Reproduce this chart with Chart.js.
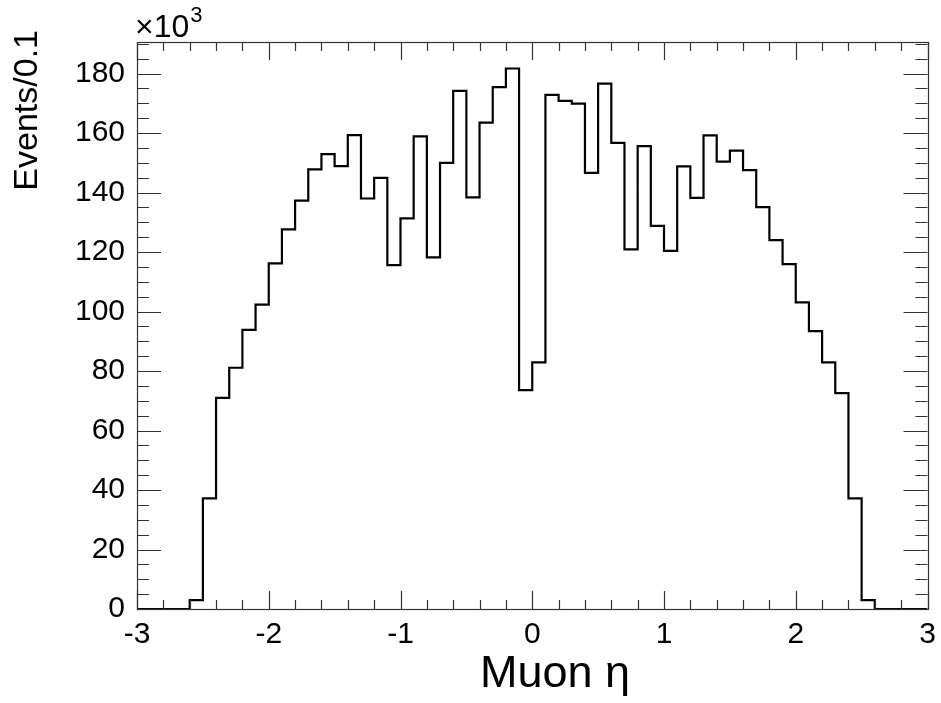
<!DOCTYPE html>
<html>
<head>
<meta charset="utf-8">
<script src="https://cdn.jsdelivr.net/npm/chart.js@4"></script>
<style>
  html, body { margin: 0; padding: 0; background: #fff; }
  canvas { display: block; }
</style>
</head>
<body>
<canvas id="eta" width="941" height="703"></canvas>
<script>
// bin edges in muon eta (60 bins of 0.1)
const etaEdges = [
  -3.0, -2.9, -2.8, -2.7, -2.6, -2.5, -2.4, -2.3, -2.2, -2.1,
  -2.0, -1.9, -1.8, -1.7, -1.6, -1.5, -1.4, -1.3, -1.2, -1.1,
  -1.0, -0.9, -0.8, -0.7, -0.6, -0.5, -0.4, -0.3, -0.2, -0.1,
   0.0,  0.1,  0.2,  0.3,  0.4,  0.5,  0.6,  0.7,  0.8,  0.9,
   1.0,  1.1,  1.2,  1.3,  1.4,  1.5,  1.6,  1.7,  1.8,  1.9,
   2.0,  2.1,  2.2,  2.3,  2.4,  2.5,  2.6,  2.7,  2.8,  2.9,
   3.0
];

// events per bin, in units of 10^3
const eventsK = [
    0.0,   0.0,   0.0,   0.0,   3.0,  37.2,  71.0,  81.1,  93.8, 102.3,
  116.2, 127.6, 137.3, 147.8, 152.9, 148.9, 159.3, 138.0, 144.9, 115.6,
  131.3, 158.9, 118.2, 150.0, 174.2, 138.4, 163.5, 175.4, 181.7,  73.6,
   82.9, 172.8, 170.8, 169.9, 146.6, 176.6, 156.7, 120.9, 155.6, 128.8,
  120.4, 148.8, 138.2, 159.2, 150.4, 154.1, 147.5, 135.1, 124.0, 115.9,
  103.1,  93.4,  82.9,  72.6,  37.2,   3.0,   0.0,   0.0,   0.0,   0.0
];

const xTickLabels = ["-3", "-2", "-1", "0", "1", "2", "3"];
const yTickLabels = ["0", "20", "40", "60", "80", "100", "120", "140", "160", "180"];

const X_MIN = -3, X_MAX = 3;
const Y_MAX = 190.6;
const FONT = "'Liberation Sans', Arial, Helvetica, sans-serif";

function histPoints() {
  const pts = [];
  for (let i = 0; i < eventsK.length; i++) {
    pts.push({ x: etaEdges[i], y: eventsK[i] });
  }
  // close the last bin at the upper edge
  pts.push({ x: etaEdges[eventsK.length], y: eventsK[eventsK.length - 1] });
  return pts;
}

// ROOT style frame: box, inward ticks on all four sides, titles
const rootFrame = {
  id: 'rootFrame',
  afterDatasetsDraw(chart) {
    const ctx = chart.ctx;
    const a = chart.chartArea;
    const xs = chart.scales.x;
    const ys = chart.scales.y;

    ctx.save();
    ctx.strokeStyle = '#333';
    ctx.lineWidth = 1.2;
    ctx.strokeRect(Math.round(a.left) + 0.5, Math.round(a.top) + 0.5,
                   Math.round(a.right - a.left), Math.round(a.bottom - a.top));

    ctx.beginPath();
    // x ticks every 0.2, major every 1
    for (let k = 0; k <= 30; k++) {
      const v = X_MIN + k * 0.2;
      const px = Math.round(xs.getPixelForValue(v)) + 0.5;
      const len = (k % 5 === 0) ? 18 : 9;
      ctx.moveTo(px, a.bottom);
      ctx.lineTo(px, a.bottom - len);
      ctx.moveTo(px, a.top);
      ctx.lineTo(px, a.top + len);
    }
    // y ticks every 5, major every 20
    for (let k = 0; k * 5 <= Y_MAX; k++) {
      const v = k * 5;
      const py = Math.round(ys.getPixelForValue(v)) + 0.5;
      const len = (k % 4 === 0) ? 24 : 12;
      ctx.moveTo(a.left, py);
      ctx.lineTo(a.left + len, py);
      ctx.moveTo(a.right, py);
      ctx.lineTo(a.right - len, py);
    }
    ctx.stroke();

    ctx.fillStyle = '#000';
    // exponent label
    ctx.textAlign = 'left';
    ctx.textBaseline = 'alphabetic';
    ctx.font = '32px ' + FONT;
    ctx.fillText('\u00d710', a.left - 2, 37);
    const w = ctx.measureText('\u00d710').width;
    ctx.font = '22px ' + FONT;
    ctx.fillText('3', a.left - 1 + w, 22);

    // x title
    ctx.font = '45px ' + FONT;
    ctx.textAlign = 'center';
    ctx.fillText('Muon \u03b7', 555, 687);

    // y title, rotated, aligned to the top of the axis
    ctx.translate(37, 30);
    ctx.rotate(-Math.PI / 2);
    ctx.font = '34px ' + FONT;
    ctx.textAlign = 'right';
    ctx.fillText('Events/0.1', 0, 0);
    ctx.restore();
  }
};

new Chart(document.getElementById('eta'), {
  type: 'line',
  data: {
    datasets: [{
      data: histPoints(),
      stepped: 'before',
      borderColor: '#000',
      borderWidth: 2.2,
      pointRadius: 0,
      fill: false,
      tension: 0
    }]
  },
  options: {
    responsive: false,
    animation: false,
    layout: { padding: { left: 0, top: 42, right: 13.5, bottom: 0 } },
    plugins: { legend: { display: false }, tooltip: { enabled: false } },
    scales: {
      x: {
        type: 'linear',
        min: X_MIN,
        max: X_MAX,
        grid: { display: false },
        border: { display: false },
        afterFit(scale) { scale.height = 94; },
        afterBuildTicks(scale) {
          scale.ticks = xTickLabels.map((t) => ({ value: Number(t) }));
        },
        ticks: {
          color: '#000',
          font: { family: FONT, size: 30 },
          padding: 0,
          maxRotation: 0,
          autoSkip: false,
          callback: (v) => String(v)
        }
      },
      y: {
        type: 'linear',
        min: 0,
        max: Y_MAX,
        grid: { display: false },
        border: { display: false },
        afterFit(scale) { scale.width = 137; },
        afterBuildTicks(scale) {
          scale.ticks = yTickLabels.map((t) => ({ value: Number(t) }));
        },
        ticks: {
          color: '#000',
          font: { family: FONT, size: 30 },
          padding: 4,
          autoSkip: false,
          callback: (v) => String(v)
        }
      }
    }
  },
  plugins: [rootFrame]
});
</script>
</body>
</html>
